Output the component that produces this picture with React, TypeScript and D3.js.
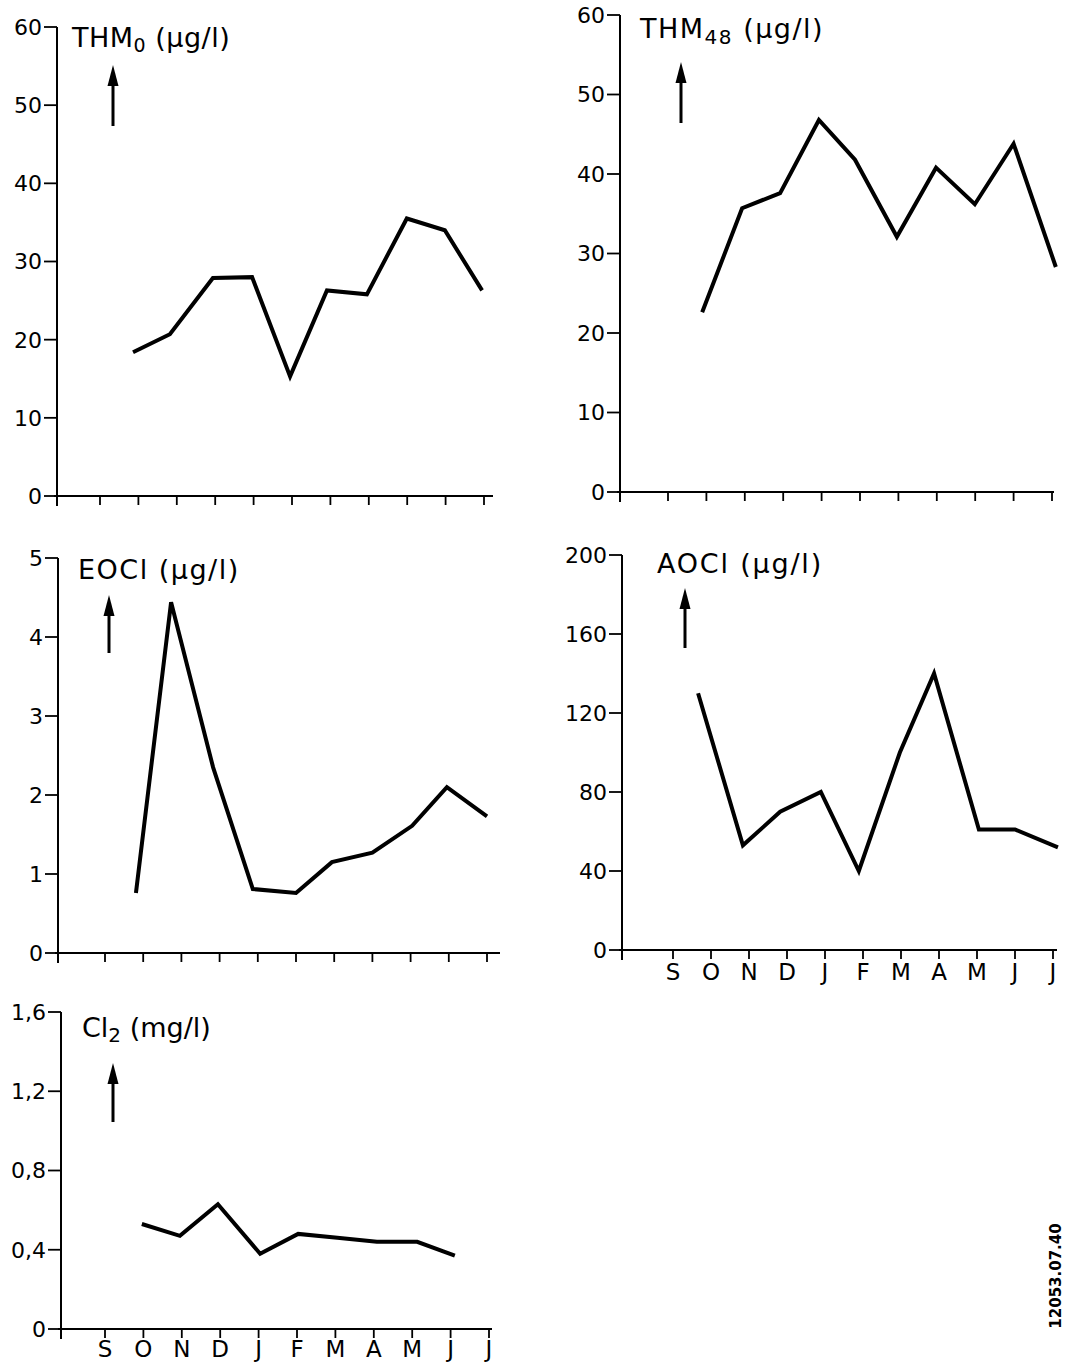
import React from "react";
import * as d3 from "d3";

// ---------- data ----------
const months = ["S", "O", "N", "D", "J", "F", "M", "A", "M", "J", "J"];

const thm0Pos = [0.86, 1.82, 2.94, 3.96, 4.95, 5.91, 6.95, 7.99, 8.98, 9.95];
const thm0Val = [18.4, 20.7, 27.9, 28.0, 15.3, 26.3, 25.8, 35.5, 34.0, 26.3];

const thm48Pos = [0.89, 1.93, 2.92, 3.93, 4.87, 5.96, 6.98, 7.99, 9.0, 10.1];
const thm48Val = [22.6, 35.7, 37.6, 46.8, 41.8, 32.1, 40.8, 36.2, 43.8, 28.3];

const eoclPos = [0.81, 1.73, 2.83, 3.87, 5.0, 5.94, 7.0, 8.04, 8.95, 10.0];
const eoclVal = [0.76, 4.44, 2.35, 0.81, 0.76, 1.15, 1.27, 1.61, 2.1, 1.73];

const aoclPos = [0.66, 1.84, 2.82, 3.89, 4.89, 5.97, 6.87, 8.05, 9.0, 10.13];
const aoclVal = [130, 53, 70, 80, 40, 100, 140, 61, 61, 52];

const cl2Pos = [0.96, 1.95, 2.94, 4.04, 5.03, 6.05, 7.08, 8.13, 9.11];
const cl2Val = [0.53, 0.47, 0.63, 0.38, 0.48, 0.46, 0.44, 0.44, 0.37];

const thmTicks = [0, 10, 20, 30, 40, 50, 60];
const eoclTicks = [0, 1, 2, 3, 4, 5];
const aoclTicks = [0, 40, 80, 120, 160, 200];
const cl2Ticks = [0, 0.4, 0.8, 1.2, 1.6];
const cl2TickLabels = ["0", "0,4", "0,8", "1,2", "1,6"];

const FONT = "'DejaVu Sans', 'Liberation Sans', Arial, sans-serif";

type PanelProps = {
  ox: number; y0: number; yTop: number; sX: number; jX: number; axisEnd: number;
  max: number; ticks: number[]; tickLabels?: string[];
  pos: number[]; vals: number[];
  showMonths?: boolean; monthBaseline?: number;
  title: React.ReactNode; titleX: number; titleY: number; titleSpacing: number;
  arrowX: number; arrowTip: number; arrowBottom: number;
};

function Panel(p: PanelProps) {
  const x = d3.scaleLinear().domain([0, 10]).range([p.sX, p.jX]);
  const y = d3.scaleLinear().domain([0, p.max]).range([p.y0, p.yTop]);
  const line = d3
    .line<number>()
    .x((_, i) => x(p.pos[i]))
    .y((d) => y(d));
  const monthIdx = d3.range(months.length);
  return (
    <g>
      {/* y axis */}
      <line x1={p.ox} x2={p.ox} y1={y(p.max)} y2={p.y0 + 10} stroke="#000" strokeWidth={2} />
      {p.ticks.map((t, i) => (
        <g key={"yt" + i}>
          <line x1={p.ox - 13} x2={p.ox} y1={y(t)} y2={y(t)} stroke="#000" strokeWidth={1.8} />
          <text x={p.ox - 15} y={y(t)} dy="0.36em" textAnchor="end" fontSize={22} fontFamily={FONT}>
            {p.tickLabels ? p.tickLabels[i] : String(t)}
          </text>
        </g>
      ))}
      {/* x axis */}
      <line x1={p.ox - 3} x2={p.axisEnd} y1={p.y0} y2={p.y0} stroke="#000" strokeWidth={2} />
      {monthIdx.map((m) => (
        <line key={"xt" + m} x1={x(m)} x2={x(m)} y1={p.y0} y2={p.y0 + 9} stroke="#000" strokeWidth={1.8} />
      ))}
      {p.showMonths &&
        monthIdx.map((m) => (
          <text key={"ml" + m} x={x(m)} y={p.monthBaseline} textAnchor="middle" fontSize={23} fontFamily={FONT}>
            {months[m]}
          </text>
        ))}
      {/* data line */}
      <path d={line(p.vals) || ""} fill="none" stroke="#000" strokeWidth={4} strokeLinejoin="miter" />
      {/* title */}
      <text x={p.titleX} y={p.titleY} fontSize={27} fontFamily={FONT} letterSpacing={p.titleSpacing}>
        {p.title}
      </text>
      {/* arrow */}
      <line x1={p.arrowX} x2={p.arrowX} y1={p.arrowBottom} y2={p.arrowTip + 14} stroke="#000" strokeWidth={3} />
      <path
        d={`M${p.arrowX},${p.arrowTip} L${p.arrowX - 5.5},${p.arrowTip + 21} L${p.arrowX + 5.5},${p.arrowTip + 21} Z`}
        fill="#000"
      />
    </g>
  );
}

export default function App() {
  return (
    <svg
      width={1088}
      height={1364}
      style={{ position: "absolute", left: 0, top: 0, background: "#fff" }}
    >
      <rect width={1088} height={1364} fill="#fff" />
      <Panel
        ox={57} y0={496} yTop={27} sX={100} jX={484} axisEnd={493}
        max={60} ticks={thmTicks} pos={thm0Pos} vals={thm0Val}
        title={<>THM<tspan fontSize={19} dy={5}>0</tspan><tspan dy={-5}> (μg/l)</tspan></>}
        titleX={72} titleY={47} titleSpacing={0.5}
        arrowX={113} arrowTip={65} arrowBottom={126}
      />
      <Panel
        ox={620} y0={492} yTop={15} sX={668} jX={1052} axisEnd={1054}
        max={60} ticks={thmTicks} pos={thm48Pos} vals={thm48Val}
        title={<>THM<tspan fontSize={20} dy={6}>48</tspan><tspan dy={-6}> (μg/l)</tspan></>}
        titleX={640} titleY={38} titleSpacing={1.5}
        arrowX={681} arrowTip={62} arrowBottom={123}
      />
      <Panel
        ox={58} y0={953} yTop={558} sX={105} jX={487} axisEnd={500}
        max={5} ticks={eoclTicks} pos={eoclPos} vals={eoclVal}
        title={<>EOCl (μg/l)</>}
        titleX={78} titleY={579} titleSpacing={1.5}
        arrowX={109} arrowTip={595} arrowBottom={653}
      />
      <Panel
        ox={622} y0={950} yTop={555} sX={673} jX={1053} axisEnd={1057}
        max={200} ticks={aoclTicks} pos={aoclPos} vals={aoclVal}
        showMonths monthBaseline={980}
        title={<>AOCl (μg/l)</>}
        titleX={657} titleY={573} titleSpacing={1.8}
        arrowX={685} arrowTip={588} arrowBottom={648}
      />
      <Panel
        ox={61} y0={1329} yTop={1012} sX={105} jX={489} axisEnd={492}
        max={1.6} ticks={cl2Ticks} tickLabels={cl2TickLabels} pos={cl2Pos} vals={cl2Val}
        showMonths monthBaseline={1357}
        title={<>Cl<tspan fontSize={20} dy={5}>2</tspan><tspan dy={-5}> (mg/l)</tspan></>}
        titleX={82} titleY={1037} titleSpacing={0}
        arrowX={113} arrowTip={1063} arrowBottom={1122}
      />
      <text
        transform="translate(1061,1276) rotate(-90)"
        textAnchor="middle"
        fontSize={15}
        fontWeight="bold"
        fontFamily={FONT}
      >
        12053.07.40
      </text>
    </svg>
  );
}
